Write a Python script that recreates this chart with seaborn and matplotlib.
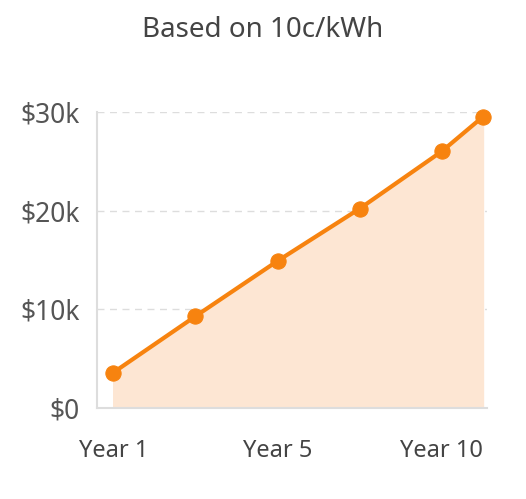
import matplotlib
matplotlib.use("Agg")
import matplotlib.pyplot as plt
import seaborn as sns
import pandas as pd

years = [1, 3, 5, 7, 9, 10]
savings = [3600, 9300, 14900, 20200, 26000, 29500]
tick_years = [1, 5, 10]
tick_labels = ["Year 1", "Year 5", "Year 10"]
y_ticks = [0, 10000, 20000, 30000]
y_labels = ["$0", "$10k", "$20k", "$30k"]

sns.set_style("white")
plt.rcParams["font.family"] = ["Noto Sans", "DejaVu Sans"]

df = pd.DataFrame({"year": years, "savings": savings})
orange = "#f7830f"

fig = plt.figure(figsize=(5.26, 4.99), dpi=100)
ax = fig.add_axes([0.184, 0.182, 0.742, 0.594])
ax.fill_between(df["year"], df["savings"], color="#fde6d3", zorder=1)
sns.lineplot(data=df, x="year", y="savings", ax=ax, color=orange, linewidth=3,
             marker="o", markersize=11, markeredgecolor=orange, zorder=3,
             clip_on=False)

ax.set_xlim(0.6, 10.1)
ax.set_ylim(0, 30000)
ax.set_xticks(tick_years)
ax.set_xticklabels(tick_labels)
ax.set_yticks(y_ticks)
ax.set_yticklabels(y_labels)
ax.tick_params(axis="y", labelsize=19, colors="#555555", length=0, pad=12)
ax.tick_params(axis="x", labelsize=17, colors="#444444", length=0, pad=22)
xl = ax.get_xticklabels()
xl[2].set_horizontalalignment("right")
xl[2].set_x(10.0)
ax.set_xlabel("")
ax.set_ylabel("")
for v in y_ticks[1:]:
    ax.axhline(v, color="#dddddd", linestyle=(0, (5, 4)), linewidth=1, zorder=0)
for s in ["top", "right"]:
    ax.spines[s].set_visible(False)
ax.spines["left"].set_color("#dddddd")
ax.spines["bottom"].set_color("#dddddd")
ax.spines["left"].set_linewidth(1.5)
ax.spines["bottom"].set_linewidth(1.5)

fig.text(0.5, 0.94, "Based on 10c/kWh", ha="center", va="center",
         fontsize=20, color="#444444")

fig.savefig("out.png", dpi=100)
